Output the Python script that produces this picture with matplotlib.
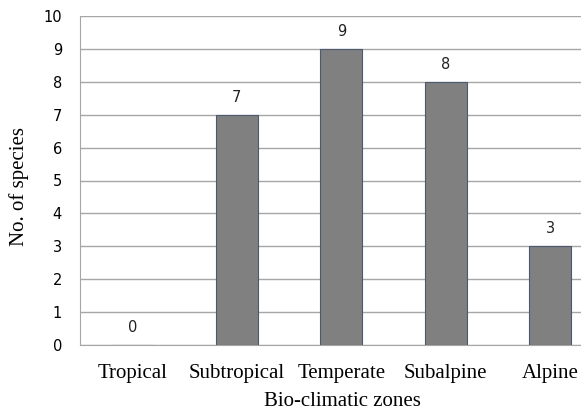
import matplotlib
matplotlib.use('Agg')
import matplotlib.pyplot as plt

zones = ['Tropical', 'Subtropical', 'Temperate', 'Subalpine', 'Alpine']
species = [0, 7, 9, 8, 3]
yticks = list(range(0, 11))

W, H = 581, 413
fig = plt.figure(figsize=(W / 100, H / 100), dpi=100)
# plot area runs past the right edge of the picture, as in the original
ax = fig.add_axes([80 / W, (H - 345) / H, 522.5 / W, 329 / H])

x = list(range(len(zones)))
ax.bar(x, species, width=0.40, color='#808080', edgecolor='#4a5a70', linewidth=0.8, zorder=3)

for xi, v in zip(x, species):
    ax.text(xi, v + 0.3, str(v), ha='center', va='bottom',
            fontsize=10.5, family='DejaVu Sans', color='#222222')

ax.set_xlim(-0.5, 4.5)
ax.set_ylim(0, 10)
ax.set_yticks(yticks)
ax.set_xticks(x)
ax.set_xticklabels(zones, family='Liberation Serif', fontsize=15)
ax.tick_params(axis='x', length=0, pad=14)
ax.tick_params(axis='y', length=0, pad=13, labelsize=10.5)
ax.yaxis.grid(True, color='#a6a6a6', linewidth=1.0, zorder=0)
ax.set_axisbelow(True)

for s in ['top', 'right']:
    ax.spines[s].set_visible(False)
ax.spines['left'].set_color('#a6a6a6')
ax.spines['bottom'].set_color('#a6a6a6')

ax.set_xlabel('Bio-climatic zones', family='Liberation Serif', fontsize=15)
ax.xaxis.label.set_va('center')
ax.xaxis.set_label_coords((342 - 80) / 522.5, -(402 - 345) / 329)
ax.set_ylabel('No. of species', family='Liberation Serif', fontsize=15)
ax.yaxis.label.set_va('center')
ax.yaxis.set_label_coords(-(80 - 19) / 522.5, (345 - 187) / 329)

fig.savefig('out.png', dpi=100)
